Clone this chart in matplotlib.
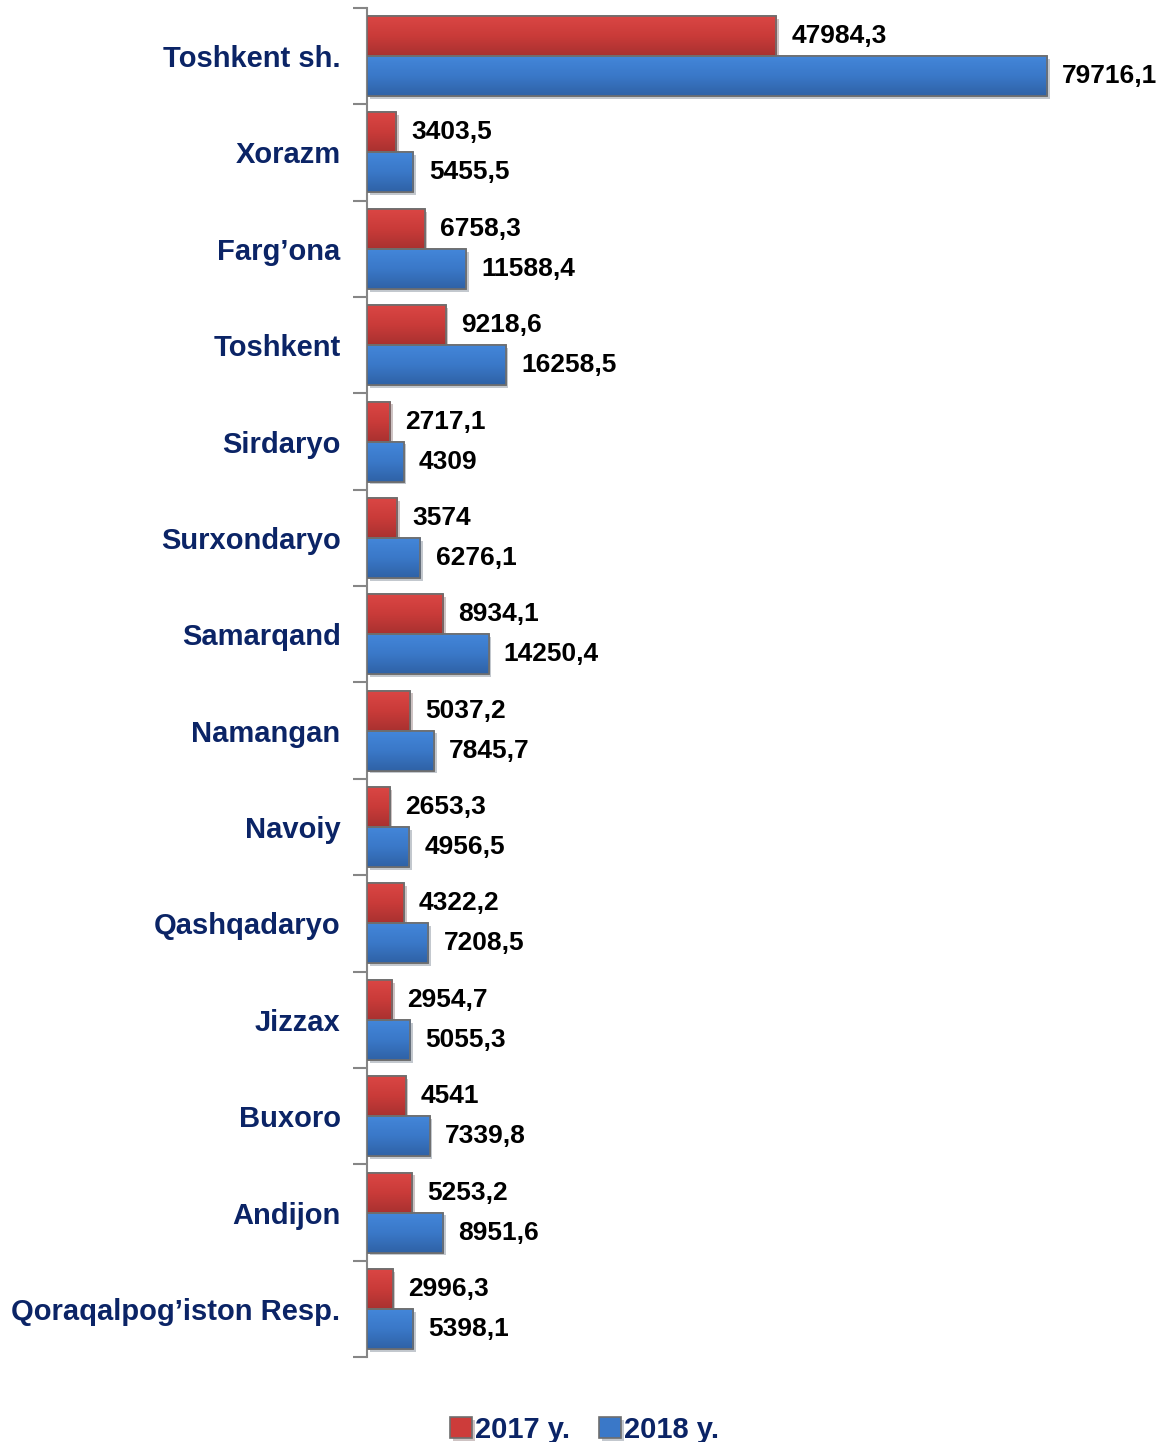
import matplotlib

matplotlib.use("Agg")

import numpy as np  # noqa: E402
from matplotlib import pyplot as plt  # noqa: E402
from matplotlib import patheffects  # noqa: E402
from matplotlib.colors import LinearSegmentedColormap  # noqa: E402

regions = [
    "Toshkent sh.",
    "Xorazm",
    "Farg\u2019ona",
    "Toshkent",
    "Sirdaryo",
    "Surxondaryo",
    "Samarqand",
    "Namangan",
    "Navoiy",
    "Qashqadaryo",
    "Jizzax",
    "Buxoro",
    "Andijon",
    "Qoraqalpog\u2019iston Resp.",
]
values_2017 = [47984.3, 3403.5, 6758.3, 9218.6, 2717.1, 3574, 8934.1,
               5037.2, 2653.3, 4322.2, 2954.7, 4541, 5253.2, 2996.3]
values_2018 = [79716.1, 5455.5, 11588.4, 16258.5, 4309, 6276.1, 14250.4,
               7845.7, 4956.5, 7208.5, 5055.3, 7339.8, 8951.6, 5398.1]

RED = "#CD3C3A"
BLUE = "#3A78C8"
NAVY = "#0B2466"
EDGE = "#6E6E6E"

red_grad = LinearSegmentedColormap.from_list("r", ["#DA4644", "#C93B39", "#A93130"])
blue_grad = LinearSegmentedColormap.from_list("b", ["#4386D9", "#3A78C8", "#2F62A6"])

plt.rcParams["font.family"] = ["Liberation Sans", "DejaVu Sans"]
plt.rcParams["font.weight"] = "bold"


def fmt(v):
    return f"{v:g}".replace(".", ",")


fig = plt.figure(figsize=(11.62, 14.42), dpi=100)
ax = fig.add_axes([0.3158, 0.0589, 0.624, 0.9356])

y = np.arange(len(regions))
h = 0.415
shadow = [patheffects.SimplePatchShadow(offset=(2, -2), alpha=0.25), patheffects.Normal()]

bars17 = ax.barh(y - h / 2, values_2017, height=h, color=RED, edgecolor=EDGE,
                 linewidth=1.2, label="2017 y.", zorder=2)
bars18 = ax.barh(y + h / 2, values_2018, height=h, color=BLUE, edgecolor=EDGE,
                 linewidth=1.2, label="2018 y.", zorder=2)

grad = np.linspace(0, 1, 64).reshape(-1, 1)
for bars, cmap in ((bars17, red_grad), (bars18, blue_grad)):
    for b in bars:
        b.set_path_effects(shadow)
        x0, y0 = b.get_x(), b.get_y()
        w, hh = b.get_width(), b.get_height()
        im = ax.imshow(grad, cmap=cmap, aspect="auto", zorder=3,
                       extent=(x0, x0 + w, y0 + hh, y0), origin="upper")
        im.set_clip_path(b)
        ax.add_patch(plt.Rectangle((x0, y0), w, hh, fill=False,
                                   edgecolor=EDGE, linewidth=1.2, zorder=4))

for bars, vals in ((bars17, values_2017), (bars18, values_2018)):
    for b, v in zip(bars, vals):
        ax.annotate(fmt(v), (v, b.get_y() + b.get_height() / 2),
                    xytext=(11, 0), textcoords="offset points",
                    va="center", ha="left", fontsize=19, fontweight="bold",
                    color="black", zorder=5)

ax.set_xlim(0, 85000)
ax.set_ylim(len(regions) - 0.5, -0.5)
ax.set_xticks([])
ax.set_yticks(y)
ax.set_yticklabels(regions, fontsize=21, fontweight="bold", color=NAVY)
ax.set_yticks(np.arange(len(regions) + 1) - 0.5, minor=True)
ax.tick_params(axis="y", which="major", length=0, pad=19)
ax.tick_params(axis="y", which="minor", length=10, width=1.5, color="#868686")

for side in ("top", "right", "bottom"):
    ax.spines[side].set_visible(False)
ax.spines["left"].set_color("#868686")
ax.spines["left"].set_linewidth(1.5)

fig.legend(handles=[bars17, bars18], labels=["2017 y.", "2018 y."],
           loc="center", bbox_to_anchor=(0.503, 0.0085), ncol=2, frameon=False,
           handlelength=0.75, handleheight=0.75, handletextpad=0.1,
           columnspacing=1.0, labelcolor=NAVY,
           prop={"weight": "bold", "size": 21})

fig.savefig("out.png", dpi=100)
